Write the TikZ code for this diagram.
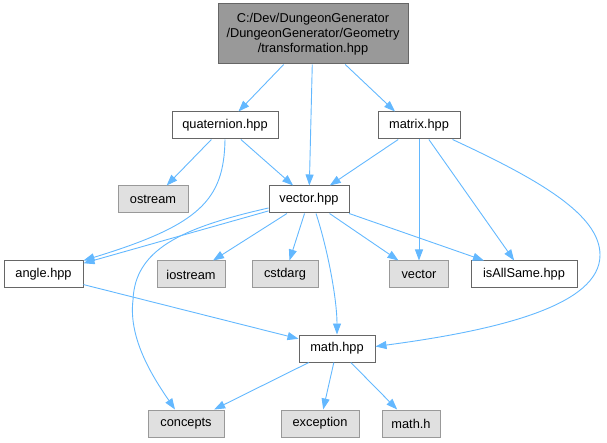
\documentclass[tikz,border=0pt]{standalone}
\usepackage{fontspec}
\setmainfont{Liberation Sans}
\usetikzlibrary{arrows.meta}
\definecolor{edgeblue}{HTML}{63B8FF}
\definecolor{boxline}{HTML}{666666}
\definecolor{sysline}{HTML}{999999}
\definecolor{sysfill}{HTML}{E0E0E0}
\definecolor{topfill}{HTML}{999999}
\begin{document}
\begin{tikzpicture}[x=1pt, y=-1pt, font=\fontsize{12.8}{15}\selectfont,
  hdr/.style={draw=boxline, line width=1pt, fill=white, inner sep=0pt, minimum height=27pt},
  sys/.style={hdr, draw=sysline, fill=sysfill},
  edge/.style={draw=edgeblue, line width=0.9pt, -{Triangle[length=11pt,width=8pt]}}]
\useasboundingbox (0,0) rectangle (607,443);
% file being documented
\node[hdr, fill=topfill, minimum width=190pt, minimum height=60pt, align=center] (top) at (313,34)
  {C:/Dev/DungeonGenerator\\/DungeonGenerator/Geometry\\/transformation.hpp};
\node[hdr, minimum width=106pt] (quat) at (225,125.5) {quaternion.hpp};
\node[hdr, minimum width=82pt] (matrix) at (419,125.5) {matrix.hpp};
\node[sys, minimum width=70pt] (ostream) at (153,199.5) {ostream};
\node[hdr, minimum width=80pt] (vectorhpp) at (309,199.5) {vector.hpp};
% third row
\node[hdr, minimum width=79pt] (angle) at (43.5,274.5) {angle.hpp};
\foreach \nm/\px/\bw in {iostream/191/68, cstdarg/285/66, vector/419/59}
  \node[sys, minimum width=\bw pt] (\nm) at (\px,274.5) {\nm};
\node[hdr, minimum width=106pt] (isallsame) at (524,274.5) {isAllSame.hpp};
\node[hdr, minimum width=76pt] (math) at (337,348.5) {math.hpp};
% system headers at the bottom
\node[sys, minimum width=76pt] (concepts) at (186,423.5) {concepts};
\node[sys, minimum width=78pt] (exception) at (320,423.5) {exception};
\node[sys, minimum width=58pt] (mathh) at (411,423.5) {math.h};
% includes
\foreach \a/\b in {top/quat, top/vectorhpp, quat/ostream, quat/vectorhpp,
    matrix/vectorhpp, matrix/vector, matrix/isallsame, vectorhpp/angle,
    vectorhpp/iostream, vectorhpp/cstdarg, vectorhpp/vector, vectorhpp/isallsame,
    angle/math, math/concepts, math/exception, math/mathh}
  \draw[edge] (\a) -- (\b);
\draw[edge] (top) -- ([xshift=-24pt]matrix.north);
\draw[edge] (quat.south) .. controls (224,200) and (200,225) .. (angle.north east);
\draw[edge] ([xshift=7pt]vectorhpp.south) .. controls (328,250) and (337,300) .. (math.north);
\draw[edge] ([yshift=-8.5pt]vectorhpp.west) .. controls (180,228) and (135,250) .. (133,300)
  .. controls (128,340) and (155,380) .. ([xshift=-11pt]concepts.north);
\draw[edge] ([xshift=-8pt]matrix.south east) .. controls (540,180) and (600,215) .. (600,255)
  .. controls (600,305) and (500,330) .. ([yshift=2pt]math.east);
\end{tikzpicture}
\end{document}
